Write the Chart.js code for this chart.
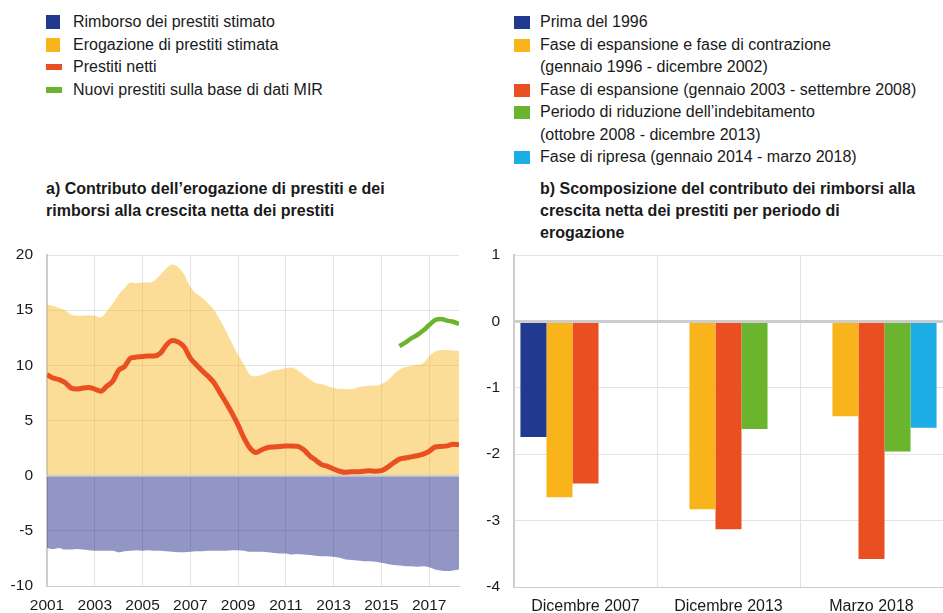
<!DOCTYPE html>
<html>
<head>
<meta charset="utf-8">
<script src="https://cdn.jsdelivr.net/npm/chart.js@4.4.1/dist/chart.umd.min.js"></script>
<style>
  body { margin: 0; background: #fff; font-family: "Liberation Sans", Arial, sans-serif; color: #1a1a1a; }
  #page { position: relative; width: 943px; height: 613px; overflow: hidden; }
  .legend { position: absolute; top: 11px; font-size: 16px; line-height: 22.5px; }
  .legend .row { position: relative; padding-left: 27px; white-space: nowrap; }
  .legend .sw { position: absolute; left: 0; top: 4px; width: 14px; height: 14px; }
  .legend .ln { position: absolute; left: 0; top: 8px; width: 16px; height: 6px; }
  .legend .cont { padding-left: 26px; white-space: nowrap; }
  .title { position: absolute; top: 178px; font-size: 16px; font-weight: bold; line-height: 22px; }
  .box { position: absolute; top: 240px; height: 373px; }
</style>
</head>
<body>
<div id="page">
  <div class="legend" id="legendA" style="left:46px"></div>
  <div class="legend" id="legendB" style="left:514px"></div>
  <div class="title" style="left:46px">a) Contributo dell’erogazione di prestiti e dei<br>rimborsi alla crescita netta dei prestiti</div>
  <div class="title" style="left:540px">b) Scomposizione del contributo dei rimborsi alla<br>crescita netta dei prestiti per periodo di<br>erogazione</div>
  <div class="box" style="left:0; width:470px"><canvas id="chartA"></canvas></div>
  <div class="box" style="left:470px; width:473px"><canvas id="chartB"></canvas></div>
</div>
<script>
// Panel a) quarterly readings, Q1 2001 .. Q1 2018 (last point = March 2018)
const quarters = Array.from({ length: 70 }, (_, i) => 2001 + i / 4);
const yearTicks = [2001, 2003, 2005, 2007, 2009, 2011, 2013, 2015, 2017];

const erogazione = [
  15.5, 15.4, 15.2, 15.0, 14.6, 14.5, 14.5, 14.55, 14.5, 14.35, 14.9, 15.6,
  16.4, 17.0, 17.5, 17.45, 17.5, 17.5, 17.7, 18.2, 18.8, 19.15, 18.9, 18.2,
  17.1, 16.5, 16.1, 15.6, 15.0, 14.1, 13.1, 12.0, 10.95, 10.05, 9.15, 9.0,
  9.15, 9.35, 9.55, 9.6, 9.75, 9.8, 9.55, 9.15, 8.75, 8.4, 8.3, 8.1,
  7.95, 7.85, 7.85, 7.85, 8.0, 8.1, 8.15, 8.15, 8.3, 8.6, 9.15, 9.6,
  9.85, 9.95, 10.05, 10.2, 10.8, 11.25, 11.4, 11.4, 11.35, 11.3
];
const rimborso = [
  -6.55, -6.65, -6.55, -6.7, -6.7, -6.65, -6.7, -6.75, -6.8, -6.8, -6.8, -6.8,
  -6.95, -6.85, -6.8, -6.75, -6.8, -6.75, -6.8, -6.8, -6.85, -6.9, -6.95, -6.95,
  -6.9, -6.85, -6.85, -6.8, -6.8, -6.8, -6.8, -6.75, -6.75, -6.8, -6.9, -6.9,
  -6.9, -6.95, -7.0, -7.05, -7.05, -7.15, -7.1, -7.15, -7.2, -7.25, -7.3, -7.3,
  -7.35, -7.45, -7.6, -7.65, -7.7, -7.75, -7.75, -7.8, -7.9, -8.0, -8.1, -8.15,
  -8.2, -8.2, -8.25, -8.2, -8.3, -8.5, -8.6, -8.65, -8.6, -8.5
];
const prestitiNetti = [
  9.15, 8.85, 8.7, 8.45, 7.95, 7.85, 7.95, 8.0, 7.85, 7.65, 8.1, 8.55,
  9.55, 9.9, 10.65, 10.75, 10.8, 10.85, 10.85, 11.1, 11.85, 12.25, 12.1, 11.65,
  10.65, 10.05, 9.5, 9.0, 8.4, 7.5, 6.6, 5.65, 4.6, 3.4, 2.5, 2.1,
  2.35, 2.55, 2.6, 2.65, 2.7, 2.7, 2.65, 2.35, 1.8, 1.4, 1.0, 0.85,
  0.6, 0.4, 0.3, 0.35, 0.35, 0.4, 0.45, 0.4, 0.45, 0.75, 1.15, 1.5,
  1.6, 1.7, 1.8, 1.95, 2.2, 2.6, 2.65, 2.7, 2.85, 2.8
];
// MIR series starts in Q4 2015
const nuoviPrestitiMIR = [
  11.75, 12.05, 12.45, 12.75, 13.15, 13.65, 14.1, 14.2, 14.05, 13.95, 13.75
];

// Panel b)
const periodi = ['Dicembre 2007', 'Dicembre 2013', 'Marzo 2018'];
const prima1996 = [-1.74, null, null];
const espContr = [-2.65, -2.83, -1.43];
const espansione = [-2.44, -3.13, -3.58];
const riduzione = [null, -1.62, -1.96];
const ripresa = [null, null, -1.60];

const C = {
  navy: '#213a8f',
  yellow: '#f9b31b',
  red: '#e94f20',
  green: '#6ab42e',
  cyan: '#1bade3',
  grid: '#e3e3e3',
  axis: '#cdcdcd'
};

const legendA = [
  { label: 'Rimborso dei prestiti stimato', color: C.navy, kind: 'sw' },
  { label: 'Erogazione di prestiti stimata', color: C.yellow, kind: 'sw' },
  { label: 'Prestiti netti', color: C.red, kind: 'ln' },
  { label: 'Nuovi prestiti sulla base di dati MIR', color: C.green, kind: 'ln' }
];
const legendB = [
  { label: ['Prima del 1996'], color: C.navy },
  { label: ['Fase di espansione e fase di contrazione', '(gennaio 1996 - dicembre 2002)'], color: C.yellow },
  { label: ['Fase di espansione (gennaio 2003 - settembre 2008)'], color: C.red },
  { label: ['Periodo di riduzione dell’indebitamento', '(ottobre 2008 - dicembre 2013)'], color: C.green },
  { label: ['Fase di ripresa (gennaio 2014 - marzo 2018)'], color: C.cyan }
];

function buildLegends() {
  const a = document.getElementById('legendA');
  legendA.forEach(it => {
    const row = document.createElement('div');
    row.className = 'row';
    row.innerHTML = `<span class="${it.kind}" style="background:${it.color}"></span>${it.label}`;
    a.appendChild(row);
  });
  const b = document.getElementById('legendB');
  legendB.forEach(it => {
    const row = document.createElement('div');
    row.className = 'row';
    row.style.paddingLeft = '26px';
    row.innerHTML = `<span class="sw" style="background:${it.color};width:16px;height:13px;top:5px"></span>${it.label[0]}`;
    b.appendChild(row);
    for (let k = 1; k < it.label.length; k++) {
      const c = document.createElement('div');
      c.className = 'cont';
      c.textContent = it.label[k];
      b.appendChild(c);
    }
  });
}

Chart.defaults.font.family = '"Liberation Sans", Arial, sans-serif';
Chart.defaults.font.size = 15.5;
Chart.defaults.color = '#1a1a1a';
Chart.defaults.animation = false;

// fixed axis sizes; drop the tick-label overflow padding so the plot edges sit where we want
const fixY = w => axis => { axis.width = w; axis.paddingTop = 0; axis.paddingBottom = 0; };

function xy(values, offset) {
  return values.map((v, i) => ({ x: quarters[i + (offset || 0)], y: v }));
}

function drawChartA() {
  new Chart(document.getElementById('chartA'), {
    type: 'line',
    data: {
      datasets: [
        {
          label: 'Nuovi prestiti sulla base di dati MIR',
          data: xy(nuoviPrestitiMIR, quarters.length - nuoviPrestitiMIR.length),
          borderColor: C.green,
          borderWidth: 4.5,
          pointRadius: 0,
          cubicInterpolationMode: 'monotone',
          order: 0
        },
        {
          label: 'Prestiti netti',
          data: xy(prestitiNetti),
          borderColor: C.red,
          borderWidth: 5,
          pointRadius: 0,
          cubicInterpolationMode: 'monotone',
          order: 1
        },
        {
          label: 'zero',
          data: quarters.map(q => ({ x: q, y: 0 })),
          borderColor: C.axis,
          borderWidth: 2,
          pointRadius: 0,
          order: 2
        },
        {
          label: 'Erogazione di prestiti stimata',
          data: xy(erogazione),
          borderWidth: 0,
          backgroundColor: 'rgba(249, 179, 27, 0.45)',
          fill: 'origin',
          pointRadius: 0,
          cubicInterpolationMode: 'monotone',
          order: 3
        },
        {
          label: 'Rimborso dei prestiti stimato',
          data: xy(rimborso),
          borderWidth: 0,
          backgroundColor: 'rgba(35, 45, 140, 0.5)',
          fill: 'origin',
          pointRadius: 0,
          cubicInterpolationMode: 'monotone',
          order: 4
        }
      ]
    },
    options: {
      responsive: true,
      maintainAspectRatio: false,
      layout: { padding: { top: 15, right: 11, left: 0, bottom: 0 } },
      plugins: { legend: { display: false }, tooltip: { enabled: false } },
      scales: {
        x: {
          type: 'linear',
          min: 2001,
          max: quarters[quarters.length - 1],
          afterBuildTicks: axis => { axis.ticks = yearTicks.map(v => ({ value: v })); },
          afterFit: axis => { axis.height = 27; },
          grid: { color: C.grid, drawTicks: false },
          border: { color: C.axis, width: 1 },
          ticks: { padding: 10, maxRotation: 0, callback: v => String(v) }
        },
        y: {
          min: -10,
          max: 20,
          afterFit: fixY(47),
          grid: { color: C.grid, drawTicks: false },
          border: { color: C.axis, width: 2 },
          ticks: { stepSize: 5, padding: 14 }
        }
      }
    }
  });
}

function drawChartB() {
  const mk = (label, data, color) => ({
    label, data, backgroundColor: color, borderWidth: 0,
    categoryPercentage: 0.91, barPercentage: 1
  });
  new Chart(document.getElementById('chartB'), {
    type: 'bar',
    data: {
      labels: periodi,
      datasets: [
        mk('Prima del 1996', prima1996, C.navy),
        mk('Fase di espansione e fase di contrazione', espContr, C.yellow),
        mk('Fase di espansione', espansione, C.red),
        mk('Periodo di riduzione dell’indebitamento', riduzione, C.green),
        mk('Fase di ripresa', ripresa, C.cyan)
      ]
    },
    options: {
      responsive: true,
      maintainAspectRatio: false,
      layout: { padding: { top: 15, right: 0, left: 0, bottom: 0 } },
      plugins: { legend: { display: false }, tooltip: { enabled: false } },
      scales: {
        x: {
          afterFit: axis => { axis.height = 26; },
          grid: { color: C.grid, drawTicks: false, offset: true },
          border: { color: C.axis, width: 1 },
          ticks: { padding: 10, maxRotation: 0, font: { size: 16 } }
        },
        y: {
          min: -4,
          max: 1,
          afterFit: fixY(44),
          grid: {
            color: ctx => ctx.tick && ctx.tick.value === 0 ? C.axis : C.grid,
            lineWidth: ctx => ctx.tick && ctx.tick.value === 0 ? 3 : 1,
            drawTicks: false
          },
          border: { color: C.axis, width: 2 },
          ticks: { stepSize: 1, padding: 14 }
        }
      }
    }
  });
}

buildLegends();
drawChartA();
drawChartB();
</script>
</body>
</html>
